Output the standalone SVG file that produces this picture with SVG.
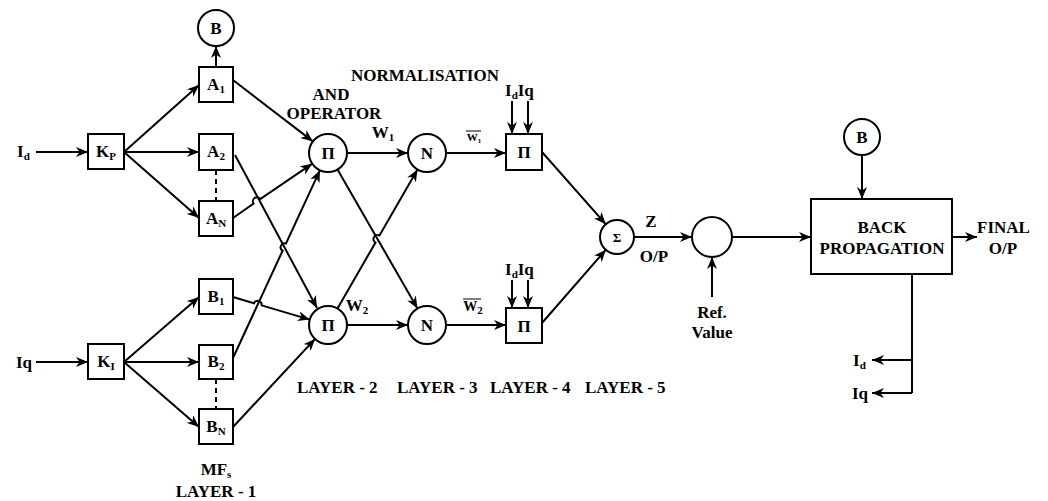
<svg xmlns="http://www.w3.org/2000/svg" width="1048" height="501" viewBox="0 0 1048 501">
<defs>
<marker id="arr" viewBox="0 0 12 10" refX="12" refY="5" markerWidth="12" markerHeight="10" markerUnits="userSpaceOnUse" orient="auto">
<path d="M0,0 L12,5 L0,10 L3.5,5 Z" fill="#000"/>
</marker>
</defs>
<style>
.n{fill:#fff;stroke:#000;stroke-width:2}
.t{font-family:"Liberation Serif","Times New Roman",serif;font-weight:bold;font-size:17px;fill:#000}
.c{text-anchor:middle}
.l{fill:none;stroke:#000;stroke-width:2}
.a{marker-end:url(#arr)}
.d{stroke-dasharray:5,4}
.s{font-size:11px}
</style>
<rect width="1048" height="501" fill="#fff"/>

<g id="connectors">
<line class="l a" x1="36" y1="152" x2="88" y2="152"/>
<line class="l a" x1="36" y1="362" x2="88" y2="362"/>
<line class="l a" x1="124" y1="152" x2="199" y2="85"/>
<line class="l a" x1="124" y1="152" x2="199" y2="152"/>
<line class="l a" x1="124" y1="152" x2="199" y2="218"/>
<line class="l a" x1="124" y1="362" x2="199" y2="297"/>
<line class="l a" x1="124" y1="362" x2="199" y2="362"/>
<line class="l a" x1="124" y1="362" x2="199" y2="427"/>
<line class="l a" x1="216" y1="67" x2="216" y2="46"/>
<line class="l d" x1="216" y1="170" x2="216" y2="201"/>
<line class="l d" x1="216" y1="379" x2="216" y2="409"/>
<line class="l a" x1="233" y1="80" x2="312.9" y2="141.4"/>
<line class="l a" x1="235" y1="155" x2="317" y2="308"/>
<path class="l a" d="M233,218 L253.6,203.6 A4,4 0 0 1 260.2,199 L312.3,163.7"/>
<path class="l a" d="M233,297 L254,303.2 A4,4 0 0 1 261.6,305.4 L309.8,319.6"/>
<path class="l a" d="M233,358 L282.6,250.7 A4,4 0 0 1 286,243.5 L320,170.2"/>
<line class="l a" x1="233" y1="427" x2="315.1" y2="338.9"/>
<line class="l a" x1="347" y1="153" x2="408" y2="153"/>
<line class="l a" x1="347" y1="325" x2="408" y2="325"/>
<line class="l a" x1="337.5" y1="169.5" x2="417.5" y2="308.5"/>
<path class="l a" d="M337.5,308.5 L375.5,242.5 A4,4 0 0 1 379.5,235.5 L417.5,169.5"/>
<line class="l a" x1="446" y1="153" x2="506" y2="153"/>
<line class="l a" x1="446" y1="325" x2="506" y2="325"/>
<line class="l a" x1="512" y1="101" x2="512" y2="134"/>
<line class="l a" x1="528" y1="101" x2="528" y2="134"/>
<line class="l a" x1="512" y1="280" x2="512" y2="308"/>
<line class="l a" x1="528" y1="280" x2="528" y2="308"/>
<line class="l a" x1="542" y1="152" x2="605.7" y2="224.2"/>
<line class="l a" x1="542" y1="323" x2="605.8" y2="249.8"/>
<line class="l a" x1="634" y1="237" x2="692" y2="237"/>
<line class="l a" x1="712" y1="297" x2="712" y2="257"/>
<line class="l a" x1="732" y1="237" x2="811" y2="237"/>
<line class="l a" x1="862" y1="155" x2="862" y2="199"/>
<line class="l a" x1="952" y1="237" x2="977" y2="237"/>
<path class="l" d="M912,274 L912,393"/>
<line class="l a" x1="912" y1="360" x2="872" y2="360"/>
<line class="l a" x1="912" y1="393" x2="872" y2="393"/>
</g>

<g id="B_top"><circle class="n" cx="216" cy="28" r="18"/><text class="t c" x="216" y="34">B</text></g>
<g id="Kp"><rect class="n" x="88" y="134" width="36" height="35"/><text class="t c" x="106" y="157">K<tspan class="s" dy="3">P</tspan></text></g>
<g id="KI"><rect class="n" x="88" y="344" width="36" height="35"/><text class="t c" x="106" y="367">K<tspan class="s" dy="3">I</tspan></text></g>
<g id="A1"><rect class="n" x="199" y="67" width="34" height="35"/><text class="t c" x="216" y="90">A<tspan class="s" dy="3">1</tspan></text></g>
<g id="A2"><rect class="n" x="199" y="134" width="34" height="36"/><text class="t c" x="216" y="157">A<tspan class="s" dy="3">2</tspan></text></g>
<g id="AN"><rect class="n" x="199" y="201" width="34" height="35"/><text class="t c" x="216" y="224">A<tspan class="s" dy="3">N</tspan></text></g>
<g id="B1"><rect class="n" x="199" y="279" width="34" height="35"/><text class="t c" x="216" y="302">B<tspan class="s" dy="3">1</tspan></text></g>
<g id="B2"><rect class="n" x="199" y="345" width="34" height="34"/><text class="t c" x="216" y="367">B<tspan class="s" dy="3">2</tspan></text></g>
<g id="BN"><rect class="n" x="199" y="409" width="34" height="35"/><text class="t c" x="216" y="432">B<tspan class="s" dy="3">N</tspan></text></g>
<g id="Pi1"><circle class="n" cx="328" cy="153" r="19"/><text class="t c" x="328" y="159">Π</text></g>
<g id="Pi2"><circle class="n" cx="328" cy="325" r="19"/><text class="t c" x="328" y="331">Π</text></g>
<g id="N1"><circle class="n" cx="427" cy="153" r="19"/><text class="t c" x="427" y="159">N</text></g>
<g id="N2"><circle class="n" cx="427" cy="325" r="19"/><text class="t c" x="427" y="331">N</text></g>
<g id="PiBox1"><rect class="n" x="506" y="134" width="36" height="36"/><text class="t c" x="524" y="158">Π</text></g>
<g id="PiBox2"><rect class="n" x="506" y="308" width="36" height="35"/><text class="t c" x="524" y="332">Π</text></g>
<g id="Sigma"><circle class="n" cx="617" cy="237" r="17"/><text class="t c" x="617" y="242" style="font-size:13px">Σ</text></g>
<g id="Compare"><circle class="n" cx="712" cy="237" r="20"/></g>
<g id="B_right"><circle class="n" cx="862" cy="137" r="18"/><text class="t c" x="862" y="143">B</text></g>
<g id="BackProp"><rect class="n" x="811" y="199" width="141" height="75"/><text class="t c" x="882" y="233">BACK</text><text class="t c" x="882" y="254">PROPAGATION</text></g>

<g id="labels">
<text class="t" x="17" y="157">I<tspan class="s" dy="3">d</tspan></text>
<text class="t" x="16" y="368">Iq</text>
<text class="t c" x="216" y="475">MF<tspan class="s" dy="3">s</tspan></text>
<text class="t c" x="216" y="497">LAYER - 1</text>
<text class="t c" x="425" y="81">NORMALISATION</text>
<text class="t c" x="331" y="100">AND</text>
<text class="t c" x="334" y="119">OPERATOR</text>
<text class="t c" x="383" y="138">W<tspan class="s" dy="3">1</tspan></text>
<text class="t c" x="357" y="311">W<tspan class="s" dy="3">2</tspan></text>
<text class="t c" x="474" y="141" style="font-size:11px">W<tspan style="font-size:7px" dy="2">1</tspan></text>
<line x1="466" y1="131" x2="481" y2="131" stroke="#000" stroke-width="1"/>
<text class="t c" x="473" y="311" style="font-size:14px">W<tspan class="s" dy="3">2</tspan></text>
<line x1="463" y1="299" x2="481" y2="299" stroke="#000" stroke-width="1"/>
<text class="t" x="505" y="96">I<tspan class="s" dy="3">d</tspan><tspan dy="-3">Iq</tspan></text>
<text class="t" x="505" y="275">I<tspan class="s" dy="3">d</tspan><tspan dy="-3">Iq</tspan></text>
<text class="t c" x="651" y="227">Z</text>
<text class="t c" x="654" y="262">O/P</text>
<text class="t c" x="712" y="318">Ref.</text>
<text class="t c" x="712" y="338">Value</text>
<text class="t" x="977" y="233">FINAL</text>
<text class="t c" x="1003" y="254">O/P</text>
<text class="t" x="853" y="366">I<tspan class="s" dy="3">d</tspan></text>
<text class="t" x="852" y="399">Iq</text>
<text class="t" x="297" y="393">LAYER - 2</text>
<text class="t" x="397" y="393">LAYER - 3</text>
<text class="t" x="490" y="393">LAYER - 4</text>
<text class="t" x="585" y="393">LAYER - 5</text>
</g>
</svg>
